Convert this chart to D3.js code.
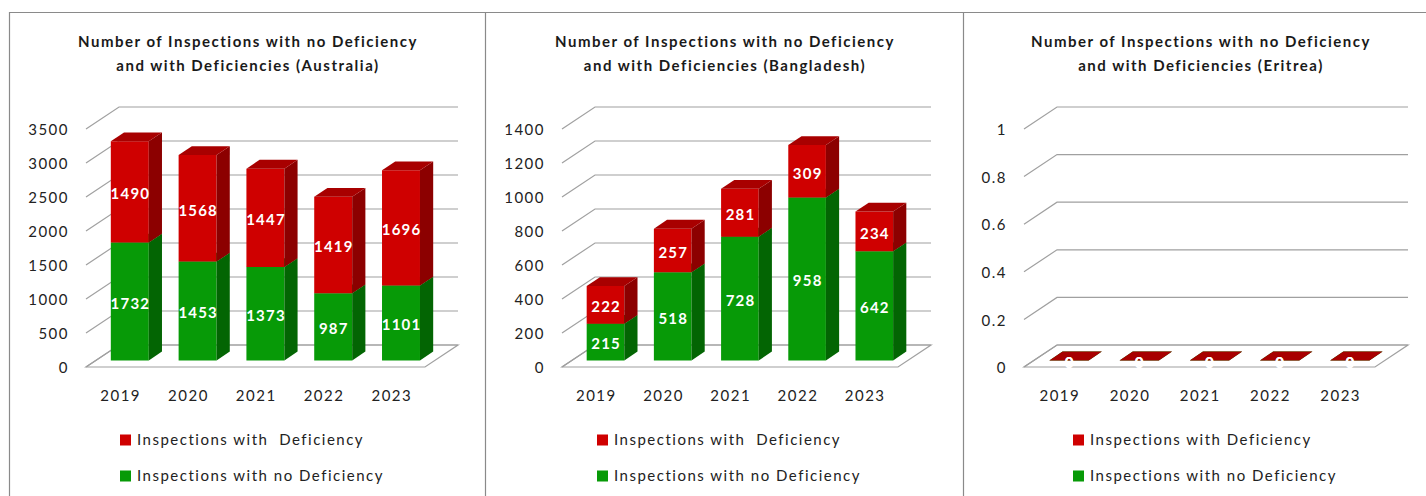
<!DOCTYPE html>
<html><head><meta charset="utf-8">
<script src="https://cdn.jsdelivr.net/npm/d3@7/dist/d3.min.js"></script>
<style>html,body{margin:0;padding:0;background:#fff;}svg{display:block;}</style>
</head><body>
<script>
const years = ["2019","2020","2021","2022","2023"];
const australiaNoDef = [1732,1453,1373,987,1101];
const australiaDef = [1490,1568,1447,1419,1696];
const bangladeshNoDef = [215,518,728,958,642];
const bangladeshDef = [222,257,281,309,234];
const eritreaNoDef = [0,0,0,0,0];
const eritreaDef = [0,0,0,0,0];
const australiaTicks = [0,500,1000,1500,2000,2500,3000,3500];
const bangladeshTicks = [0,200,400,600,800,1000,1200,1400];
const eritreaTicks = [0,0.2,0.4,0.6,0.8,1];
const titleLine1 = "Number of Inspections with no Deficiency";
const countries = ["Australia","Bangladesh","Eritrea"];
const legendDef = ["Inspections with  Deficiency","Inspections with  Deficiency","Inspections with Deficiency"];
const legendNoDef = "Inspections with no Deficiency";

const W = 1426, H = 496;
const svg = d3.select("body").append("svg").attr("width", W).attr("height", H);
const FONT = "Lato, 'Open Sans', sans-serif";
const LS = 1.5;

// frame
const frame = svg.append("g").attr("fill","none").attr("stroke","#8a8a8a").attr("stroke-width",1.2);
frame.append("line").attr("x1",9).attr("x2",W).attr("y1",12.5).attr("y2",12.5);
[9.5,485.5,963.5].forEach(x=>frame.append("line").attr("x1",x).attr("x2",x).attr("y1",12).attr("y2",H));

const panels = [
  {cx:248, x0:86, x1:425, noDef:australiaNoDef, def:australiaDef, ticks:australiaTicks, max:3500, fmt:d3.format("d"), legX:120},
  {cx:725, x0:562, x1:898, noDef:bangladeshNoDef, def:bangladeshDef, ticks:bangladeshTicks, max:1400, fmt:d3.format("d"), legX:597},
  {cx:1201, x0:1024, x1:1375, noDef:eritreaNoDef, def:eritreaDef, ticks:eritreaTicks, max:1, fmt:d=>String(d), legX:1073}
];

const DX = 33, DY = -22, D0 = 0.3, D1 = 0.7;
const RED = {front:"#cf0000", top:"#a80000", side:"#8c0000"};
const GREEN = {front:"#079a07", top:"#057a05", side:"#036503"};

panels.forEach((p,i)=>{
  const g = svg.append("g");
  // title
  const t = g.append("text").attr("x",p.cx).attr("text-anchor","middle").attr("letter-spacing",LS)
    .attr("font-family",FONT).attr("font-weight","bold").attr("font-size",15).attr("fill","#1a1a1a");
  t.append("tspan").attr("x",p.cx).attr("y",47).text(titleLine1);
  t.append("tspan").attr("x",p.cx).attr("y",71).text("and with Deficiencies (" + countries[i] + ")");

  const y = d3.scaleLinear().domain([0,p.max]).range([367,129]);
  const x = d3.scaleBand().domain(years).range([p.x0,p.x1]).padding(0);
  const P = (xx,v,d)=>[xx + d*DX, y(v) + d*DY];

  // floor
  g.append("polygon").attr("points",[P(p.x0,0,0),P(p.x1,0,0),P(p.x1,0,1),P(p.x0,0,1)].map(a=>a.join(",")).join(" "))
    .attr("fill","#fff").attr("stroke","#a0a0a0").attr("stroke-width",1.2);
  // gridlines
  p.ticks.forEach(v=>{
    const a = P(p.x0,v,0), b = P(p.x0,v,1), c = P(p.x1,v,1);
    g.append("polyline").attr("points",[a,b,c].map(q=>q.join(",")).join(" "))
      .attr("fill","none").attr("stroke","#a0a0a0").attr("stroke-width",1.2);
    g.append("text").attr("x",p.x0-17).attr("y",y(v)+1).attr("dy","0.35em").attr("text-anchor","end").attr("letter-spacing",LS)
      .attr("font-family",FONT).attr("font-size",15).attr("fill","#222").text(p.fmt(v));
  });
  // year labels
  years.forEach(yr=>{
    g.append("text").attr("x",x(yr)+x.bandwidth()/2+0.75).attr("y",396).attr("dy","0.35em").attr("text-anchor","middle").attr("letter-spacing",LS)
      .attr("font-family",FONT).attr("font-size",15).attr("fill","#222").text(yr);
  });

  // bars
  const bw = x.bandwidth()*0.56;
  const labels = [];
  years.forEach((yr,k)=>{
    const xl = x(yr) + (x.bandwidth()-bw)/2, xr = xl + bw;
    const segs = [{v0:0, v1:p.noDef[k], c:GREEN, val:p.noDef[k]},
                  {v0:p.noDef[k], v1:p.noDef[k]+p.def[k], c:RED, val:p.def[k]}];
    segs.forEach(s=>{
      const poly = pts => pts.map(a=>a.join(",")).join(" ");
      g.append("polygon").attr("points",poly([P(xl,s.v0,D0),P(xr,s.v0,D0),P(xr,s.v1,D0),P(xl,s.v1,D0)])).attr("fill",s.c.front);
      g.append("polygon").attr("points",poly([P(xr,s.v0,D0),P(xr,s.v0,D1),P(xr,s.v1,D1),P(xr,s.v1,D0)])).attr("fill",s.c.side);
      g.append("polygon").attr("points",poly([P(xl,s.v1,D0),P(xr,s.v1,D0),P(xr,s.v1,D1),P(xl,s.v1,D1)])).attr("fill",s.c.top);
      const m = P((xl+xr)/2,(s.v0+s.v1)/2,D0);
      labels.push({x:m[0]+0.6, y:m[1]+2, t:String(s.val)});
    });
  });
  labels.forEach(l=>{
    g.append("text").attr("x",l.x).attr("y",l.y).attr("dy","0.35em").attr("text-anchor","middle").attr("letter-spacing",1.2)
      .attr("font-family",FONT).attr("font-weight","bold").attr("font-size",15).attr("fill","#fff").text(l.t);
  });

  // legend
  const leg = [{c:RED.front, t:legendDef[i], y:440},{c:GREEN.front, t:legendNoDef, y:476}];
  leg.forEach(L=>{
    g.append("rect").attr("x",p.legX).attr("y",L.y-5.5).attr("width",11).attr("height",11).attr("fill",L.c);
    g.append("text").attr("x",p.legX+17).attr("y",L.y).attr("dy","0.35em").attr("letter-spacing",LS)
      .attr("font-family",FONT).attr("font-size",15).attr("fill","#222").style("white-space","pre").text(L.t);
  });
});
</script>
</body></html>
